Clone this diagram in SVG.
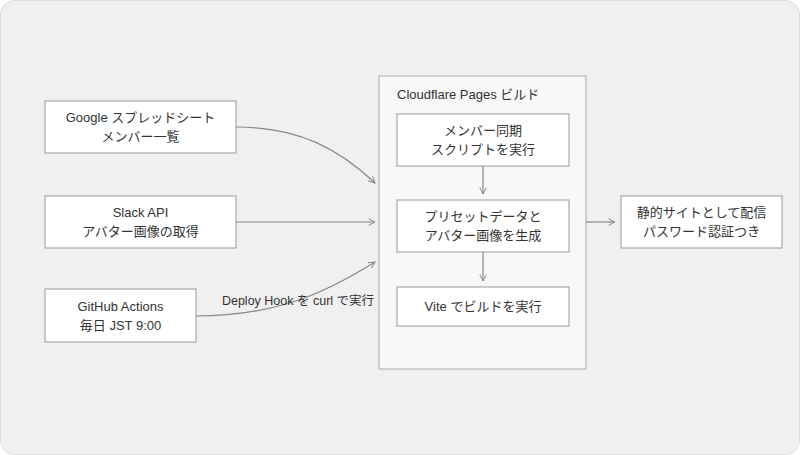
<svg xmlns="http://www.w3.org/2000/svg" width="800" height="455" viewBox="0 0 800 455">
<style>
.n{fill:#fff;stroke:#999;stroke-width:1}
.t{font-family:"Liberation Sans","Noto Sans CJK JP",sans-serif;font-size:13px;fill:#333;text-anchor:middle}
.c{fill:none;stroke:#888;stroke-width:1.2}
</style>
<defs><marker id="a" viewBox="0 0 10 10" refX="9" refY="5" markerWidth="8" markerHeight="8" orient="auto" markerUnits="userSpaceOnUse"><path d="M1,1 L9,5 L1,9" fill="none" stroke="#888" stroke-width="1.2"/></marker></defs>
<rect x="0.5" y="0.5" width="799" height="454" rx="14" fill="#f0f0f0" stroke="#ddd"/>
<g id="cluster"><rect x="379" y="76" width="207" height="293" fill="#f8f8f8" stroke="#aaa"/><text x="397" y="99" class="t" style="text-anchor:start">Cloudflare Pages ビルド</text></g>
<g id="sheet"><rect class="n" x="45" y="101" width="191" height="52"/><text class="t" x="140.5" y="122">Google スプレッドシート</text><text class="t" x="140.5" y="141">メンバー一覧</text></g>
<g id="slack"><rect class="n" x="45" y="196" width="191" height="52"/><text class="t" x="140.5" y="217">Slack API</text><text class="t" x="140.5" y="236">アバター画像の取得</text></g>
<g id="gha"><rect class="n" x="45" y="289" width="151" height="53"/><text class="t" x="120.5" y="311">GitHub Actions</text><text class="t" x="120.5" y="330">毎日 JST 9:00</text></g>
<g id="sync"><rect class="n" x="397" y="114" width="172" height="52"/><text class="t" x="483" y="135">メンバー同期</text><text class="t" x="483" y="154">スクリプトを実行</text></g>
<g id="gen"><rect class="n" x="397" y="200" width="172" height="52"/><text class="t" x="483" y="221">プリセットデータと</text><text class="t" x="483" y="240">アバター画像を生成</text></g>
<g id="vite"><rect class="n" x="397" y="287" width="172" height="39"/><text class="t" x="483" y="311">Vite でビルドを実行</text></g>
<g id="site"><rect class="n" x="621" y="196" width="161" height="52"/><text class="t" x="701.5" y="217">静的サイトとして配信</text><text class="t" x="701.5" y="236">パスワード認証つき</text></g>
<g id="connectors">
<path class="c" marker-end="url(#a)" d="M236,127 C300,127 340,150 375,183"/>
<path class="c" marker-end="url(#a)" d="M236,222 L375,222"/>
<path class="c" marker-end="url(#a)" d="M196,316 C280,316 330,290 375,262"/>
<text class="t" x="298" y="305" style="font-size:12.5px">Deploy Hook を curl で実行</text>
<path class="c" marker-end="url(#a)" d="M483,166 L483,194"/>
<path class="c" marker-end="url(#a)" d="M483,252 L483,281"/>
<path class="c" marker-end="url(#a)" d="M586,222 L615,222"/>
</g>
</svg>
